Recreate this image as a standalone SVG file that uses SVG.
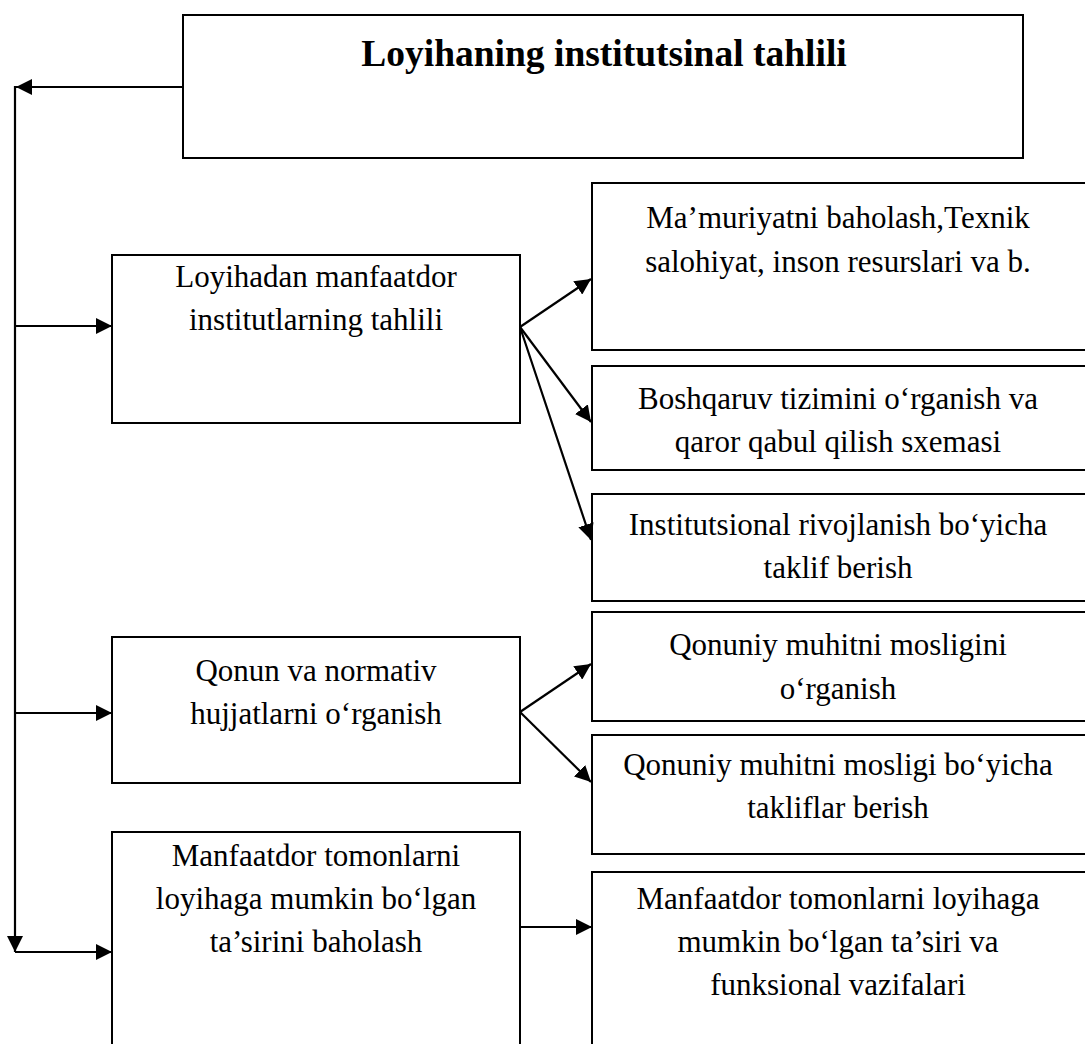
<svg xmlns="http://www.w3.org/2000/svg" width="1085" height="1044" viewBox="0 0 1085 1044">
  <style>
    .box { fill: #ffffff; stroke: #000000; stroke-width: 2; }
    .lbl { font-family: "Liberation Serif", "Times New Roman", serif; font-size: 31px; fill: #000000; text-anchor: middle; }
    .ttl { font-family: "Liberation Serif", "Times New Roman", serif; font-size: 37.5px; font-weight: bold; fill: #000000; text-anchor: middle; }
    .wire { fill: none; stroke: #000000; stroke-width: 2.2; }
  </style>
  <defs>
    <marker id="arrow" viewBox="0 0 16 16" refX="16" refY="8" markerWidth="16" markerHeight="16" markerUnits="userSpaceOnUse" orient="auto">
      <path d="M0,0 L16,8 L0,16 Z" fill="#000000"/>
    </marker>
  </defs>

  <rect width="1085" height="1044" fill="#ffffff"/>

  <!-- main heading -->
  <g id="node-title">
    <rect class="box" x="183" y="15" width="840" height="143"/>
    <text class="ttl" x="604" y="66">Loyihaning institutsinal tahlili</text>
  </g>

  <!-- left column -->
  <g id="node-institutes">
    <rect class="box" x="112" y="255" width="408" height="168"/>
    <text class="lbl" x="316" y="287">Loyihadan manfaatdor</text>
    <text class="lbl" x="316" y="330">institutlarning tahlili</text>
  </g>
  <g id="node-law">
    <rect class="box" x="112" y="637" width="408" height="146"/>
    <text class="lbl" x="316" y="681">Qonun va normativ</text>
    <text class="lbl" x="316" y="724">hujjatlarni o‘rganish</text>
  </g>
  <g id="node-stakeholders">
    <rect class="box" x="112" y="832" width="408" height="230"/>
    <text class="lbl" x="316" y="866">Manfaatdor tomonlarni</text>
    <text class="lbl" x="316" y="909">loyihaga mumkin bo‘lgan</text>
    <text class="lbl" x="316" y="952">ta’sirini baholash</text>
  </g>

  <!-- right column -->
  <g id="node-admin">
    <rect class="box" x="592" y="183" width="510" height="167"/>
    <text class="lbl" x="838" y="228">Ma’muriyatni baholash,Texnik</text>
    <text class="lbl" x="838" y="272">salohiyat, inson resurslari va b.</text>
  </g>
  <g id="node-governance">
    <rect class="box" x="592" y="366" width="510" height="104"/>
    <text class="lbl" x="838" y="409">Boshqaruv tizimini o‘rganish va</text>
    <text class="lbl" x="838" y="452">qaror qabul qilish sxemasi</text>
  </g>
  <g id="node-development">
    <rect class="box" x="592" y="494" width="510" height="107"/>
    <text class="lbl" x="838" y="535">Institutsional rivojlanish bo‘yicha</text>
    <text class="lbl" x="838" y="578">taklif berish</text>
  </g>
  <g id="node-legal-study">
    <rect class="box" x="592" y="612" width="510" height="109"/>
    <text class="lbl" x="838" y="655">Qonuniy muhitni mosligini</text>
    <text class="lbl" x="838" y="699">o‘rganish</text>
  </g>
  <g id="node-legal-proposals">
    <rect class="box" x="592" y="735" width="510" height="119"/>
    <text class="lbl" x="838" y="775">Qonuniy muhitni mosligi bo‘yicha</text>
    <text class="lbl" x="838" y="818">takliflar berish</text>
  </g>
  <g id="node-functions">
    <rect class="box" x="592" y="872" width="510" height="190"/>
    <text class="lbl" x="838" y="909">Manfaatdor tomonlarni loyihaga</text>
    <text class="lbl" x="838" y="952">mumkin bo‘lgan ta’siri va</text>
    <text class="lbl" x="838" y="995">funksional vazifalari</text>
  </g>

  <!-- connectors -->
  <g id="connectors">
    <line class="wire" x1="183" y1="87" x2="16" y2="87" marker-end="url(#arrow)"/>
    <line class="wire" x1="15" y1="86" x2="15" y2="952" marker-end="url(#arrow)"/>
    <line class="wire" x1="15" y1="326" x2="112" y2="326" marker-end="url(#arrow)"/>
    <line class="wire" x1="15" y1="713" x2="112" y2="713" marker-end="url(#arrow)"/>
    <line class="wire" x1="15" y1="952" x2="112" y2="952" marker-end="url(#arrow)"/>

    <line class="wire" x1="520" y1="327" x2="591" y2="279" marker-end="url(#arrow)"/>
    <line class="wire" x1="520" y1="327" x2="591" y2="422" marker-end="url(#arrow)"/>
    <line class="wire" x1="520" y1="327" x2="591" y2="540" marker-end="url(#arrow)"/>

    <line class="wire" x1="520" y1="712" x2="591" y2="664" marker-end="url(#arrow)"/>
    <line class="wire" x1="520" y1="712" x2="591" y2="782" marker-end="url(#arrow)"/>

    <line class="wire" x1="520" y1="927" x2="592" y2="927" marker-end="url(#arrow)"/>
  </g>
</svg>
